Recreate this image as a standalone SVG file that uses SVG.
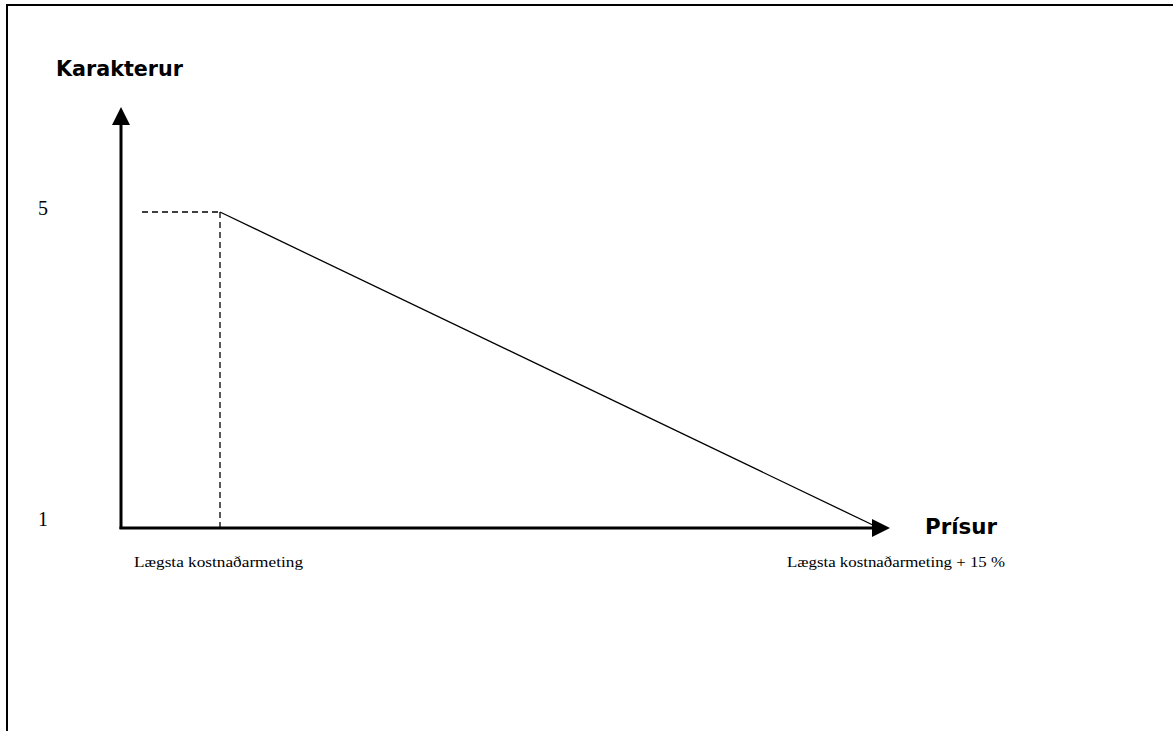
<svg xmlns="http://www.w3.org/2000/svg" width="1173" height="731" viewBox="0 0 1173 731">
<style>
.axis{stroke:#000;stroke-width:3;fill:none}
.dash{stroke:#000;stroke-width:1.3;stroke-dasharray:6,4;fill:none}
.thin{stroke:#000;stroke-width:1.3;fill:none}
.lbl{font-family:"DejaVu Sans",sans-serif;font-weight:bold;font-size:20.5px;fill:#000}
.num{font-family:"Liberation Serif",serif;font-size:20px;fill:#000}
.small{font-family:"Liberation Serif",serif;font-size:14.5px;fill:#000}
</style>
<defs>
<marker id="ah" markerWidth="6" markerHeight="6" refX="1" refY="3" orient="auto" markerUnits="strokeWidth">
<path d="M0,0 L6,3 L0,6 Z" fill="#000"/>
</marker>
</defs>
<rect width="1173" height="731" fill="#fff"/>
<g id="frame">
<line x1="7" y1="5" x2="1173" y2="5" stroke="#000" stroke-width="2"/>
<line x1="7" y1="4" x2="7" y2="731" stroke="#000" stroke-width="2"/>
</g>
<g id="connectors">
<line class="axis" x1="121" y1="529" x2="121" y2="122" marker-end="url(#ah)"/>
<line class="axis" x1="119.5" y1="528" x2="875" y2="528" marker-end="url(#ah)"/>
<line class="dash" x1="142" y1="212" x2="220" y2="212"/>
<line class="dash" x1="220" y1="212" x2="220" y2="527"/>
<line class="thin" x1="220" y1="212" x2="877" y2="527"/>
</g>
<g id="y-label"><text class="lbl" x="56" y="76" textLength="127" lengthAdjust="spacingAndGlyphs">Karakterur</text></g>
<g id="x-label"><text class="lbl" x="925" y="534" textLength="72" lengthAdjust="spacingAndGlyphs">Prísur</text></g>
<g id="tick5"><text class="num" x="38" y="215">5</text></g>
<g id="tick1"><text class="num" x="38" y="526">1</text></g>
<g id="xmin"><text class="small" x="134" y="567" textLength="169" lengthAdjust="spacingAndGlyphs">Lægsta kostnaðarmeting</text></g>
<g id="xmax"><text class="small" x="787" y="567" textLength="218" lengthAdjust="spacingAndGlyphs">Lægsta kostnaðarmeting + 15 %</text></g>
</svg>
